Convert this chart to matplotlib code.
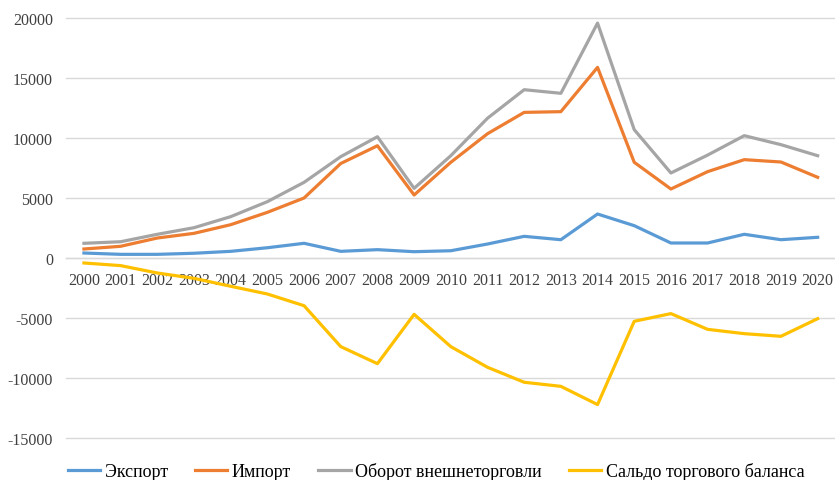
import matplotlib
matplotlib.use("Agg")
import matplotlib.pyplot as plt

years = [str(y) for y in range(2000, 2021)]
export = [440, 330, 330, 420, 580, 880, 1250, 580, 720, 550, 630, 1190, 1830, 1550, 3690, 2720, 1275, 1275, 2000, 1550, 1750]
imports = [775, 1000, 1690, 2080, 2800, 3830, 5025, 7900, 9380, 5275, 8000, 10380, 12160, 12220, 15910, 8000, 5775, 7220, 8220, 8025, 6750]
turnover = [1250, 1380, 2000, 2550, 3470, 4720, 6330, 8470, 10130, 5830, 8550, 11670, 14050, 13750, 19600, 10720, 7110, 8600, 10220, 9470, 8550]
balance = [-390, -610, -1225, -1670, -2330, -2975, -3950, -7360, -8780, -4670, -7360, -9080, -10330, -10670, -12190, -5250, -4610, -5920, -6280, -6500, -5030]
labels = ["Экспорт", "Импорт", "Оборот внешнеторговли", "Сальдо торгового баланса"]
colors = ["#5B9BD5", "#ED7D31", "#A5A5A5", "#FFC000"]
yticks = [-15000, -10000, -5000, 0, 5000, 10000, 15000, 20000]

plt.rcParams['font.family'] = ['Liberation Serif', 'DejaVu Serif']

fig = plt.figure(figsize=(8.35, 4.81), dpi=100)
ax = fig.add_axes([65.6/835, 41.7/481, (836-65.6)/835, (461.7-41.7)/481])

x = list(range(len(years)))
lines = []
for series, lab, col in zip([export, imports, turnover, balance], labels, colors):
    l, = ax.plot(x, series, color=col, lw=2.3, label=lab, solid_joinstyle='round')
    lines.append(l)

ax.set_xlim(-0.5, len(years) - 0.5)
ax.set_ylim(-15000, 20000)
ax.set_yticks(yticks)
ax.set_yticklabels([str(v) for v in yticks], fontsize=11.5, color="#404040")
ax.yaxis.grid(True, color="#D9D9D9", lw=1)
for gl in ax.get_ygridlines():
    gl.set_clip_on(False)
ax.set_axisbelow(True)
for s in ["top", "right", "left"]:
    ax.spines[s].set_visible(False)
ax.spines["bottom"].set_position(("data", 0))
ax.spines["bottom"].set_color("#D9D9D9")
ax.spines["bottom"].set_linewidth(1)
ax.set_xticks(x)
ax.set_xticklabels(years, fontsize=11.5, color="#404040")
ax.tick_params(axis="both", length=0)
ax.tick_params(axis="x", pad=10)
ax.tick_params(axis="y", pad=9)

fig.legend(handles=lines, labels=labels, loc="center", bbox_to_anchor=(436/835, 1 - 472/481),
           ncol=4, frameon=False, fontsize=13, handlelength=1.8, handletextpad=0.25,
           columnspacing=1.5, borderaxespad=0, borderpad=0)

fig.savefig("out.png", dpi=100)
